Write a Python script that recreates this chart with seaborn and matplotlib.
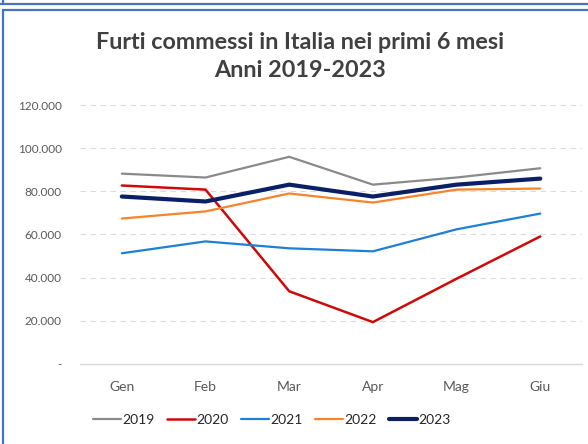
import matplotlib
matplotlib.use("Agg")
from matplotlib import pyplot as plt
from matplotlib.lines import Line2D
from matplotlib.ticker import FuncFormatter
import pandas as pd
import seaborn as sns

months = ["Gen", "Feb", "Mar", "Apr", "Mag", "Giu"]
years = ["2019", "2020", "2021", "2022", "2023"]

furti_2019 = [88200, 86400, 96000, 83100, 86400, 90700]
furti_2020 = [82700, 80800, 33700, 19400, 39500, 59100]
furti_2021 = [51300, 56800, 53600, 52200, 62400, 69700]
furti_2022 = [67400, 70700, 79000, 74800, 80800, 81300]
furti_2023 = [77600, 75300, 83100, 77600, 83100, 85900]

colors = {"2019": "#8a8a8a", "2020": "#cc0a0a", "2021": "#1f7fd6",
          "2022": "#f7832a", "2023": "#0b1f66"}
widths = {"2019": 1.6, "2020": 1.8, "2021": 1.6, "2022": 1.6, "2023": 3.0}

series = [furti_2019, furti_2020, furti_2021, furti_2022, furti_2023]
rows = []
for y, vals in zip(years, series):
    for m, v in zip(months, vals):
        rows.append({"Mese": m, "Furti": v, "Anno": y})
df = pd.DataFrame(rows)

sns.set_style("white")
plt.rcParams["font.family"] = ["Lato", "DejaVu Sans"]

fig = plt.figure(figsize=(5.88, 4.44), dpi=100)
ax = fig.add_axes([0.136, 0.1802, 0.854, 0.5833])

sns.lineplot(data=df, x="Mese", y="Furti", hue="Anno", palette=colors,
             sort=False, ax=ax, legend=False)
for line, y in zip(ax.lines, years):
    line.set_linewidth(widths[y])
    line.set_solid_joinstyle("miter")

ax.set_xlim(-0.5, 5.5)
ax.set_ylim(0, 120000)
ax.set_yticks(range(0, 120001, 20000))
ax.yaxis.set_major_formatter(FuncFormatter(
    lambda v, p: "-" if v == 0 else f"{int(v):,}".replace(",", ".")))
ax.set_xlabel("")
ax.set_ylabel("")
ax.grid(axis="y", color="#dcdcdc", linestyle=(0, (5, 4)), linewidth=0.8)
ax.set_axisbelow(True)
for s in ["top", "right", "left"]:
    ax.spines[s].set_visible(False)
ax.spines["bottom"].set_color("#d9d9d9")
ax.spines["bottom"].set_linewidth(1.0)
ax.tick_params(axis="both", length=0, colors="#595959")
ax.tick_params(axis="y", labelsize=8.5, pad=13)
ax.tick_params(axis="x", labelsize=10, pad=12)

handles = [Line2D([0], [0], color=colors[y], lw=widths[y]) for y in years]
fig.legend(handles, years, loc="center", bbox_to_anchor=(0.462, 0.054), ncol=5,
           frameon=False, fontsize=10, handlelength=2.0, handletextpad=0.1,
           columnspacing=0.9, labelcolor="#262626")

fig.text(0.51, 0.872, "Furti commessi in Italia nei primi 6 mesi\nAnni 2019-2023",
         ha="center", va="center", fontsize=16.8, fontweight="bold",
         color="#404040", linespacing=1.42)

# cornice blu dello screenshot
blue = "#4472c4"
fig.add_artist(Line2D([0, 1], [0.992, 0.992], color=blue, lw=1.6))
fig.add_artist(Line2D([0.0055, 0.0055], [0.992, 1], color=blue, lw=1.6))
fig.add_artist(Line2D([0.0055, 1], [0.9786, 0.9786], color=blue, lw=1.6))
fig.add_artist(Line2D([0.0055, 0.0055], [0, 0.9786], color=blue, lw=1.6))

fig.savefig("out.png", dpi=100, facecolor="white")
